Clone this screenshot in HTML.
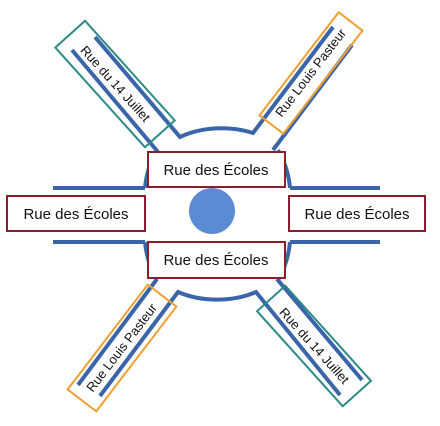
<!DOCTYPE html>
<html><head><meta charset="utf-8"><style>
html,body{margin:0;padding:0;background:#fff;}
svg{display:block;font-family:"Liberation Sans",sans-serif;}
</style></head><body>
<svg width="440" height="426" viewBox="0 0 440 426">
<g fill="none" stroke="#3a66a9" stroke-width="4">
  <line x1="53" y1="188" x2="145" y2="188"/>
  <line x1="290" y1="188" x2="380" y2="188"/>
  <line x1="53" y1="242" x2="145" y2="242"/>
  <line x1="290" y1="242" x2="380" y2="242"/>
  <path d="M145,188 A73 84 0 0 1 157,150"/>
  <path d="M290,188 A73 84 0 0 0 278,150"/>
  <path d="M145,242 A73 84 0 0 0 157,280"/>
  <path d="M290,242 A73 84 0 0 1 278,280"/>
  <path d="M95,37 L180,137 A70 45 0 0 1 253,133 L333,27"/>
  <line x1="72" y1="50" x2="158" y2="152"/>
  <line x1="352" y1="45" x2="273" y2="150"/>
  <path d="M100,396 L178,292 A70 45 0 0 0 256,292 L340,395"/>
  <line x1="157" y1="279" x2="78" y2="385"/>
  <line x1="277" y1="279" x2="362" y2="380"/>
</g>
<circle cx="212" cy="211" r="23" fill="#5b8bd2"/>
<g fill="#fff" stroke="#8b1e2c" stroke-width="2">
  <rect x="148" y="152" width="137" height="35"/>
  <rect x="148" y="242" width="137" height="36"/>
  <rect x="7" y="196" width="138" height="35"/>
  <rect x="289" y="196" width="136" height="35"/>
</g>
<g font-size="15" fill="#111" text-anchor="middle">
  <text x="216" y="175">Rue des Écoles</text>
  <text x="216" y="265">Rue des Écoles</text>
  <text x="76" y="219">Rue des Écoles</text>
  <text x="357" y="219">Rue des Écoles</text>
</g>
<g font-size="13" fill="#111" text-anchor="middle">
  <g transform="translate(115,84) rotate(48)">
    <rect x="-67" y="-20" width="134" height="40" fill="none" stroke="#2a8a86" stroke-width="2"/>
    <text x="0" y="4">Rue du 14 Juillet</text>
  </g>
  <g transform="translate(311,73) rotate(-52.5)">
    <rect x="-65" y="-15" width="130" height="30" fill="none" stroke="#f0a030" stroke-width="2"/>
    <text x="0" y="4">Rue Louis Pasteur</text>
  </g>
  <g transform="translate(122,348) rotate(-52.6)">
    <rect x="-66" y="-18" width="132" height="36" fill="none" stroke="#f0a030" stroke-width="2"/>
    <text x="0" y="4">Rue Louis Pasteur</text>
  </g>
  <g transform="translate(314,346) rotate(48)">
    <rect x="-64" y="-19" width="128" height="38" fill="none" stroke="#2a8a86" stroke-width="2"/>
    <text x="0" y="4">Rue du 14 Juillet</text>
  </g>
</g>
</svg>
</body></html>
